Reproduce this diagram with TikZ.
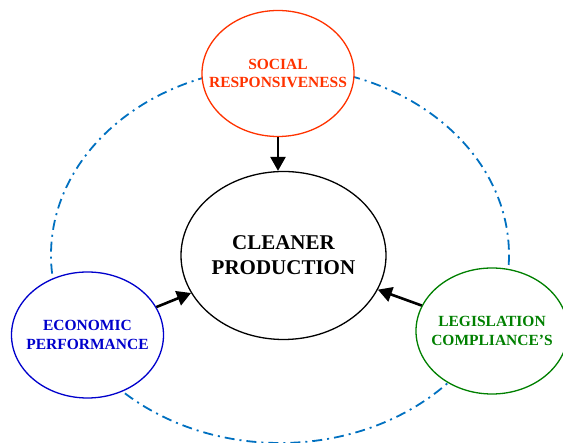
\documentclass[tikz,border=0pt]{standalone}
\usepackage{fontspec}
\setmainfont{Liberation Serif}
\usetikzlibrary{shapes.geometric,arrows.meta}
\definecolor{socred}{RGB}{255,51,0}
\definecolor{ecoblue}{RGB}{0,0,204}
\definecolor{leggreen}{RGB}{0,128,0}
\definecolor{ringblue}{RGB}{0,112,192}
\begin{document}
\begin{tikzpicture}[x=1pt,y=-1pt,
  factor/.style={ellipse,draw,fill=white,line width=1.3pt,align=center,
    minimum width=152pt,minimum height=126pt,inner xsep=-20pt,inner ysep=0pt,
    font=\bfseries\fontsize{15.5}{18.5}\selectfont},
  feed/.style={line width=2.6pt,-{Triangle[length=14pt,width=15pt]}}]
\useasboundingbox (0,0) rectangle (563,443);

\draw[ringblue,line width=1.8pt,dash pattern=on 10pt off 5pt on 2pt off 5pt] (280,255) ellipse (229 and 188);

\node[factor,draw=black,minimum width=205pt,minimum height=168pt,
  font=\bfseries\fontsize{21}{25}\selectfont] (cp) at (283.5,255.5) {CLEANER\\PRODUCTION};
\node[factor,draw=socred,text=socred] (soc) at (278,73.5) {SOCIAL\\RESPONSIVENESS};
\node[factor,draw=ecoblue,text=ecoblue] (eco) at (87.5,335) {ECONOMIC\\PERFORMANCE};
\node[factor,draw=leggreen,text=leggreen] (leg) at (492,331) {LEGISLATION\\COMPLIANCE'S};

\draw[feed] (soc.south) -- (soc.south |- cp.north);
\draw[feed] (eco) -- (cp);
\draw[feed] (leg) -- (cp);

\end{tikzpicture}
\end{document}
